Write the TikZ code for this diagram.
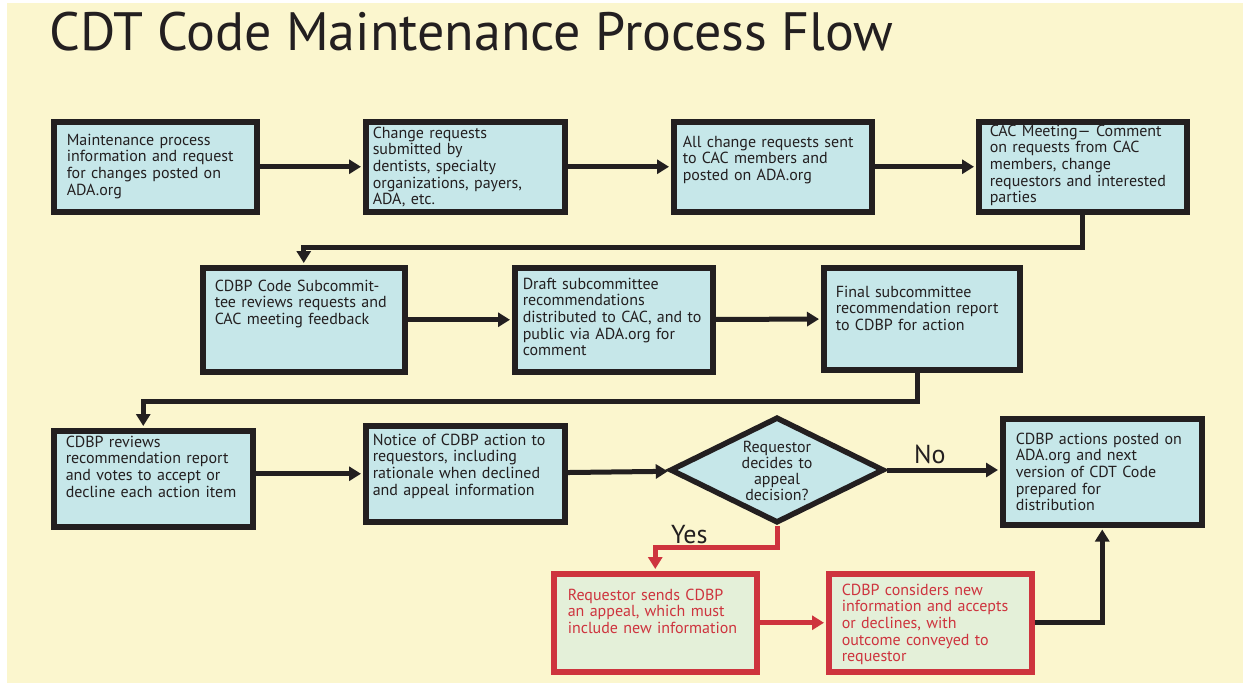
\documentclass[tikz,border=0pt]{standalone}
\usepackage{fontspec}
\setmainfont{PT Sans}
\usetikzlibrary{shapes.geometric,arrows.meta}
\definecolor{PaperYellow}{RGB}{251,246,206}
\definecolor{BoxCyan}{RGB}{198,231,233}
\definecolor{BoxGreen}{RGB}{228,240,217}
\definecolor{LineBlack}{RGB}{35,31,32}
\definecolor{AppealRed}{RGB}{206,52,62}
\newcommand{\lw}{5.5pt}

\begin{document}
\begin{tikzpicture}[x=1pt, y=-1pt,
  flowbox/.style={draw=LineBlack, line width=\lw, fill=BoxCyan, anchor=north west,
    align=left, text=LineBlack, text height=12pt,
    font=\fontsize{16}{16.7}\selectfont},
  appealbox/.style={flowbox, draw=AppealRed, fill=BoxGreen, text=AppealRed},
  decision/.style={diamond, aspect=2, draw=LineBlack, line width=\lw, fill=BoxCyan, align=center,
    text=LineBlack, inner sep=0pt, text width=80pt, text height=14pt,
    minimum width=214pt, minimum height=106pt,
    font=\fontsize{16}{16}\selectfont},
  flow/.style={draw=LineBlack, line width=5pt, -{Triangle[length=12pt,width=14pt]}, shorten >=2pt},
  redflow/.style={flow, draw=AppealRed},
  answer/.style={font=\fontsize{26}{28}\selectfont, text=LineBlack},
]
  \useasboundingbox (0,0) rectangle (1243,683);
  \fill[PaperYellow] (7,3) rectangle (1243,683);

  \node[anchor=base west, text=LineBlack, font=\fontsize{54}{57}\selectfont] (heading) at (46,50)
    {CDT Code Maintenance Process Flow};

  % first row
  \node[flowbox, inner xsep=13pt, inner ysep=11.4pt, text width=177pt, text depth=55.2pt] (posted) at (51,119)
    {Maintenance process\\information and request\\for changes posted on\\ADA.org};
  \node[flowbox, inner xsep=7pt, inner ysep=4.4pt, text width=185pt, text depth=69.2pt] (submitted) at (363,119)
    {Change requests\\submitted by\\dentists, specialty\\organizations, payers,\\ADA, etc.};
  \node[flowbox, inner xsep=9pt, inner ysep=13.4pt, text width=180pt, text depth=51.2pt] (sentcac) at (671,119)
    {All change requests sent\\to CAC members and\\posted on ADA.org};
  \node[flowbox, inner xsep=11pt, inner ysep=2.4pt, text width=186pt, text depth=73.2pt] (cacmeet) at (976,119)
    {CAC Meeting— Comment\\on requests from CAC\\members, change\\requestors and interested\\parties};

  % second row
  \node[flowbox, inner xsep=12pt, inner ysep=11.4pt, text width=178pt, text depth=69.2pt] (subrev) at (200,265)
    {CDBP Code Subcommit-\\tee reviews requests and\\CAC meeting feedback};
  \node[flowbox, inner xsep=8pt, inner ysep=9.4pt, text width=182pt, text depth=73.2pt] (draft) at (512,265)
    {Draft subcommittee\\recommendations\\distributed to CAC, and to\\public via ADA.org for\\comment};
  \node[flowbox, inner xsep=12pt, inner ysep=17.4pt, text width=172pt, text depth=55.2pt] (finalrep) at (821,265)
    {Final subcommittee\\recommendation report\\to CDBP for action};

  % third row
  \node[flowbox, inner xsep=12pt, inner ysep=4.4pt, text width=175pt, text depth=75.2pt] (cdbprev) at (51,428)
    {CDBP reviews\\recommendation report\\and votes to accept or\\decline each action item};
  \node[flowbox, inner xsep=7pt, inner ysep=7.4pt, text width=185pt, text depth=69.2pt] (notice) at (363,423)
    {Notice of CDBP action to\\requestors, including\\rationale when declined\\and appeal information};
  \node[decision] (appealq) at (777,470) {Requestor\\decides to\\appeal\\decision?};
  \node[flowbox, inner xsep=13pt, inner ysep=13.4pt, text width=173pt, text depth=67.2pt] (published) at (1000,416)
    {CDBP actions posted on\\ADA.org and next\\version of CDT Code\\prepared for\\distribution};

  % appeal branch
  \node[appealbox, inner xsep=14pt, inner ysep=14.4pt, text width=175pt, text depth=57.2pt] (sendappeal) at (551,571)
    {Requestor sends CDBP\\an appeal, which must\\include new information};
  \node[appealbox, inner xsep=13pt, inner ysep=9.4pt, text width=177pt, text depth=67.2pt] (considers) at (826,571)
    {CDBP considers new\\information and accepts\\or declines, with\\outcome conveyed to\\requestor};

  % connectors
  \draw[flow] (posted) -- (submitted);
  \draw[flow] (submitted) -- (sentcac);
  \draw[flow] (sentcac) -- (cacmeet);
  \draw[flow] (cacmeet.south) -- ++(0,33) -| (subrev.north);
  \draw[flow] (subrev) -- (draft);
  \draw[flow] (draft) -- (finalrep);
  \draw[flow] ([xshift=-4pt]finalrep.south) -- ++(0,29) -| ([xshift=-10pt]cdbprev.north);
  \draw[flow] (notice.west -| cdbprev.east) -- (notice.west);
  \draw[flow] (notice) -- (appealq);
  \draw[flow] (appealq.east) -- node[answer, above, pos=0.38] (noanswer) {No} (published.west |- appealq.east);
  \draw[redflow] (appealq.south) -- ++(0,22) -| node[answer, pos=0.36, above=-2pt] (yesanswer) {Yes} (sendappeal.north);
  \draw[redflow] (sendappeal) -- (considers);
  \draw[flow] (considers.east) -| (published.south);
\end{tikzpicture}
\end{document}
